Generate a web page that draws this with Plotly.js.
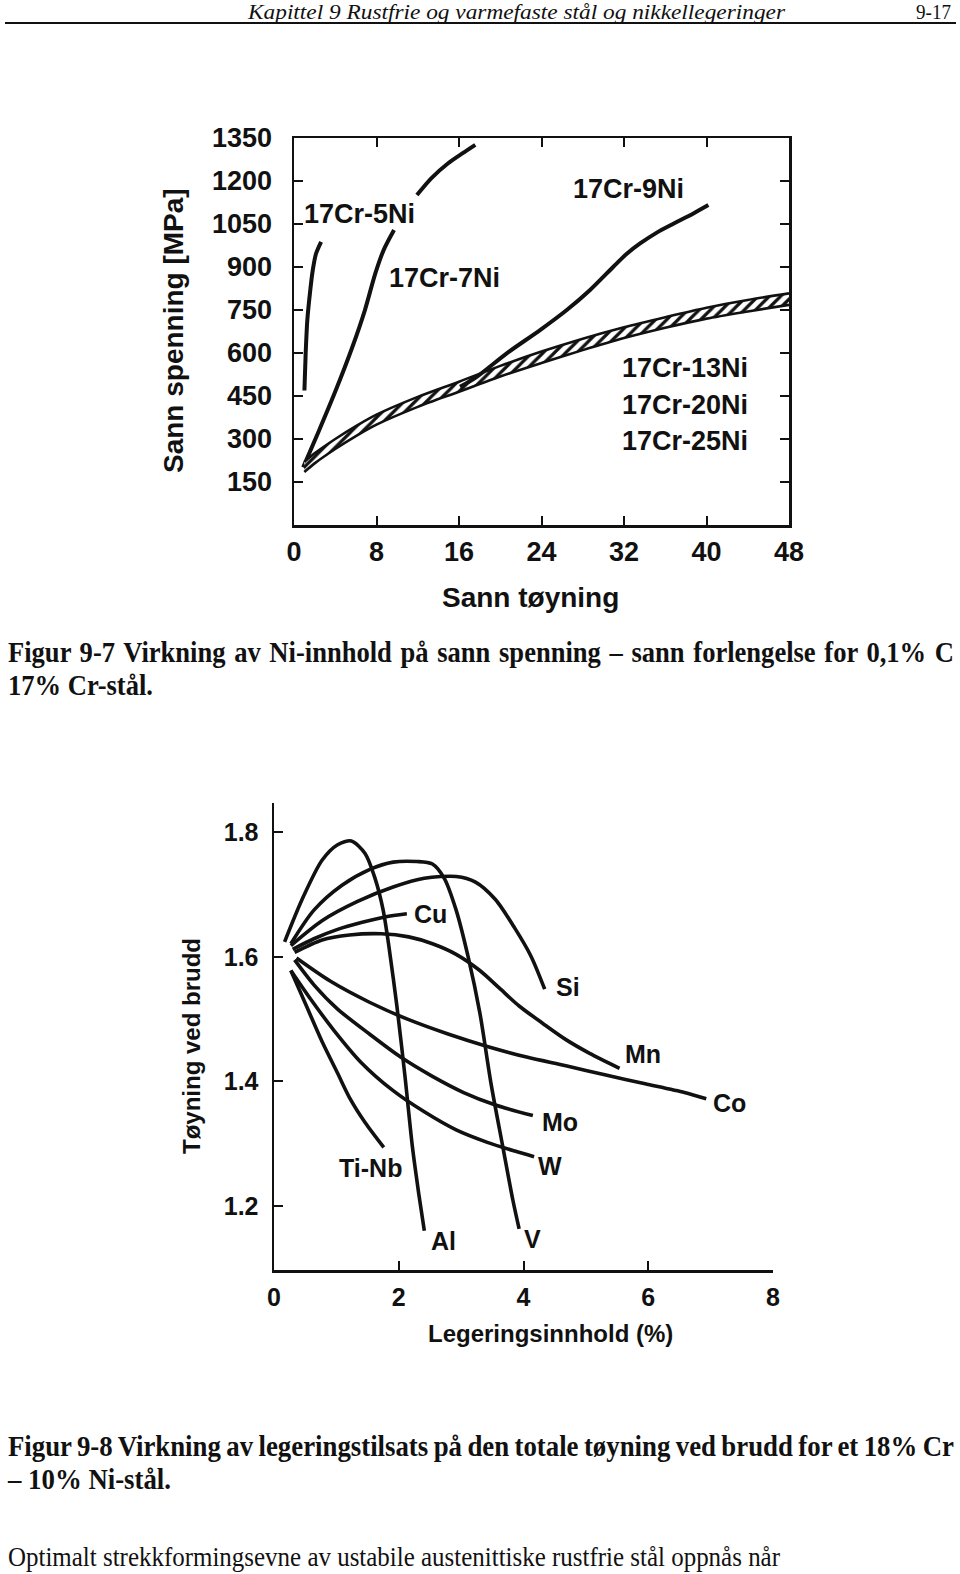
<!DOCTYPE html>
<html><head><meta charset="utf-8">
<script src="https://cdn.plot.ly/plotly-3.0.1.min.js"></script>
<style>
html,body{margin:0;padding:0;background:#fff;}
#page{position:relative;width:960px;height:1574px;overflow:hidden;background:#fff;}
#chart{position:absolute;left:0;top:0;width:960px;height:1574px;}
.ln{position:absolute;white-space:nowrap;transform-origin:0 0;color:#111;}
#rule{position:absolute;left:5px;top:22px;width:951px;height:2px;background:#111;}
</style></head>
<body><div id="page"><div id="chart"></div><div id="rule"></div></div>
<script>
// ---------- Figure 9-7 data ----------
const strainTicks = [0, 8, 16, 24, 32, 40, 48];
const stressTicks = [150, 300, 450, 600, 750, 900, 1050, 1200, 1350];

const ni5X = [1.01, 1.13, 1.29, 1.54, 1.82, 2.14, 2.63];
const ni5Y = [469, 597, 714, 807, 889, 947, 988];

const ni7X = [0.89, 2.42, 4.04, 5.66, 6.87, 7.88, 8.69, 9.70, null, 11.92, 13.33, 14.95, 16.36, 17.58];
const ni7Y = [201, 329, 469, 621, 749, 877, 959, 1029, null, 1151, 1210, 1262, 1297, 1326];

const ni9X = [16.1, 17.72, 20.63, 23.86, 26.45, 28.71, 30.97, 32.27, 33.56, 35.18, 36.79, 38.73, 40.18];
const ni9Y = [482, 517, 599, 680, 750, 820, 901, 946, 982, 1020, 1051, 1087, 1116];

const bandX = [1, 2, 4, 6, 8, 12, 16, 20, 24, 28, 32, 36, 40, 44, 48];
const bandUpper = [220, 250, 300, 345, 385, 447, 500, 555, 605, 650, 690, 725, 758, 785, 808];
const bandLower = [185, 215, 265, 310, 350, 412, 465, 518, 565, 610, 652, 688, 720, 745, 768];

const topLabels = ['17Cr-5Ni', '17Cr-7Ni', '17Cr-9Ni', '17Cr-13Ni', '17Cr-20Ni', '17Cr-25Ni'];
const topLabelX = [6.35, 14.55, 32.45, 37.92, 37.92, 37.92];
const topLabelY = [1085, 862, 1172, 549, 420, 293];

// ---------- Figure 9-8 data ----------
const alloyTicks = [0, 2, 4, 6, 8];
const elongTicks = [1.2, 1.4, 1.6, 1.8];

const alX = [0.17, 0.45, 0.77, 1.02, 1.24, 1.46, 1.62, 1.75, 1.84, 1.97, 2.10, 2.22, 2.32, 2.41];
const alY = [1.624, 1.692, 1.755, 1.780, 1.786, 1.766, 1.726, 1.675, 1.618, 1.521, 1.408, 1.294, 1.220, 1.160];

const vX = [0.27, 0.64, 1.09, 1.53, 1.91, 2.29, 2.54, 2.73, 2.92, 3.11, 3.30, 3.48, 3.67, 3.83, 3.93];
const vY = [1.621, 1.675, 1.715, 1.740, 1.752, 1.753, 1.749, 1.726, 1.675, 1.601, 1.510, 1.396, 1.294, 1.209, 1.163];

const siX = [0.27, 0.77, 1.34, 1.91, 2.41, 2.92, 3.23, 3.55, 3.86, 4.12, 4.34];
const siY = [1.618, 1.658, 1.689, 1.712, 1.726, 1.729, 1.720, 1.692, 1.646, 1.601, 1.548];

const cuX = [0.30, 0.64, 1.02, 1.40, 1.78, 2.13];
const cuY = [1.612, 1.629, 1.644, 1.655, 1.664, 1.669];

const mnX = [0.33, 0.77, 1.21, 1.72, 2.16, 2.54, 2.92, 3.30, 3.61, 3.93, 4.31, 4.68, 5.06, 5.54];
const mnY = [1.607, 1.627, 1.635, 1.637, 1.632, 1.621, 1.604, 1.578, 1.550, 1.521, 1.493, 1.467, 1.445, 1.421];

const coX = [0.36, 0.90, 1.53, 2.16, 2.79, 3.42, 4.05, 4.68, 5.32, 5.95, 6.58, 6.93];
const coY = [1.598, 1.561, 1.527, 1.499, 1.476, 1.456, 1.439, 1.425, 1.410, 1.396, 1.382, 1.372];

const moX = [0.33, 0.64, 1.02, 1.53, 2.03, 2.54, 3.04, 3.55, 4.15];
const moY = [1.595, 1.555, 1.516, 1.476, 1.439, 1.408, 1.382, 1.362, 1.345];

const wX = [0.27, 0.58, 0.96, 1.40, 1.91, 2.41, 2.92, 3.42, 3.86, 4.17];
const wY = [1.578, 1.533, 1.482, 1.430, 1.385, 1.351, 1.322, 1.302, 1.288, 1.279];

const tinbX = [0.27, 0.52, 0.77, 1.02, 1.21, 1.46, 1.76];
const tinbY = [1.578, 1.521, 1.464, 1.413, 1.374, 1.334, 1.294];

const botLabels = ['Cu', 'Si', 'Mn', 'Co', 'Mo', 'W', 'Ti-Nb', 'Al', 'V'];
const botLabelX = [2.51, 4.72, 5.92, 7.30, 4.58, 4.42, 1.55, 2.72, 4.15];
const botLabelY = [1.669, 1.551, 1.444, 1.366, 1.335, 1.264, 1.261, 1.143, 1.146];

// ---------- chart ----------
const INK = '#111';
const SANS = 'Liberation Sans, Arial, Helvetica, sans-serif';
const W = 960, H = 1574;
const px = x => x / W, py = y => 1 - y / H;

function curve(x, y, xa, ya, w) {
  return {x: x, y: y, xaxis: xa, yaxis: ya, mode: 'lines', hoverinfo: 'skip',
          line: {color: INK, width: w, shape: 'spline', smoothing: 0.8}, connectgaps: false};
}

const traces = [
  curve(ni5X, ni5Y, 'x', 'y', 4),
  curve(ni7X, ni7Y, 'x', 'y', 4),
  curve(bandX, bandLower, 'x', 'y', 2.6),
  Object.assign(curve(bandX, bandUpper, 'x', 'y', 2.6), {
    fill: 'tonexty', fillcolor: 'white',
    fillpattern: {shape: '/', size: 8, solidity: 0.4, fgcolor: INK, bgcolor: 'white'}
  }),
  curve(ni9X, ni9Y, 'x', 'y', 4),
  curve(alX, alY, 'x2', 'y2', 3.6),
  curve(vX, vY, 'x2', 'y2', 3.6),
  curve(siX, siY, 'x2', 'y2', 3.6),
  curve(cuX, cuY, 'x2', 'y2', 3.6),
  curve(mnX, mnY, 'x2', 'y2', 3.6),
  curve(coX, coY, 'x2', 'y2', 3.6),
  curve(moX, moY, 'x2', 'y2', 3.6),
  curve(wX, wY, 'x2', 'y2', 3.6),
  curve(tinbX, tinbY, 'x2', 'y2', 3.6)
];

const annotations = [];
topLabels.forEach((t, i) => annotations.push({
  text: t, x: topLabelX[i], y: topLabelY[i], xref: 'x', yref: 'y', showarrow: false,
  xanchor: 'center', yanchor: 'middle', font: {family: SANS, size: 27, color: INK, weight: 'bold'}
}));
botLabels.forEach((t, i) => annotations.push({
  text: t, x: botLabelX[i], y: botLabelY[i], xref: 'x2', yref: 'y2', showarrow: false,
  xanchor: 'center', yanchor: 'middle', font: {family: SANS, size: 25, color: INK, weight: 'bold'}
}));
function paperText(t, x, y, size, bold, angle) {
  annotations.push({text: t, x: px(x), y: py(y), xref: 'paper', yref: 'paper', showarrow: false,
    xanchor: 'center', yanchor: 'middle', textangle: angle || 0,
    font: {family: SANS, size: size, color: INK, weight: bold ? 'bold' : 'normal'}});
}
paperText('Sann spenning [MPa]', 173, 331, 28, true, -90);
paperText('Sann tøyning', 530, 597, 28, true);
paperText('Tøyning ved brudd', 191, 1046, 24, true, -90);
paperText('Legeringsinnhold (%)', 550, 1333, 24, true);

const axBase = {ticks: 'inside', ticklen: 9, tickwidth: 2, tickcolor: INK, showline: true,
  linecolor: INK, linewidth: 2.5, showgrid: false, zeroline: false, fixedrange: true};

const layout = {
  width: W, height: H, margin: {l: 0, r: 0, t: 0, b: 0},
  paper_bgcolor: 'rgba(0,0,0,0)', plot_bgcolor: 'rgba(0,0,0,0)', showlegend: false,
  font: {family: SANS, color: INK},
  xaxis: Object.assign({}, axBase, {domain: [px(294), px(789)], anchor: 'y', range: [0, 48],
    tickvals: strainTicks, mirror: 'ticks', tickfont: {size: 27, family: SANS, weight: 'bold'}, ticklabelstandoff: 1}),
  yaxis: Object.assign({}, axBase, {domain: [py(525), py(138)], anchor: 'x', range: [0, 1350],
    tickvals: stressTicks, mirror: 'ticks', tickfont: {size: 27, family: SANS, weight: 'bold'}, ticklabelstandoff: 14}),
  xaxis2: Object.assign({}, axBase, {domain: [px(274), px(773)], anchor: 'y2', range: [0, 8],
    tickvals: alloyTicks, tickfont: {size: 25, family: SANS, weight: 'bold'}, ticklabelstandoff: 3}),
  yaxis2: Object.assign({}, axBase, {domain: [py(1270), py(803)], anchor: 'x2', range: [1.097, 1.847],
    tickvals: elongTicks, ticktext: elongTicks.map(v => v.toFixed(1)),
    tickfont: {size: 25, family: SANS, weight: 'bold'}, ticklabelstandoff: 8}),
  annotations: annotations
};

Plotly.newPlot('chart', traces, layout, {staticPlot: true, displayModeBar: false});

// ---------- page text ----------
const page = document.getElementById('page');
const SERIF = "'Liberation Serif', 'Times New Roman', serif";
function addLine(text, o) {
  const d = document.createElement('div');
  d.className = 'ln';
  d.textContent = text;
  d.style.fontFamily = SERIF;
  d.style.fontSize = o.size + 'px';
  d.style.fontWeight = o.bold ? 'bold' : 'normal';
  d.style.fontStyle = o.italic ? 'italic' : 'normal';
  d.style.lineHeight = o.size + 'px';
  d.style.left = o.x0 + 'px';
  d.style.top = (o.base - 0.8375 * o.size) + 'px';
  page.appendChild(d);
  const w = d.getBoundingClientRect().width;
  let s = o.scale || (o.x1 - o.x0) / w;
  if (o.justify) {
    const spaces = (text.match(/ /g) || []).length;
    const extra = ((o.x1 - o.x0) / s - w) / spaces;
    d.style.wordSpacing = extra + 'px';
  }
  d.style.transform = 'scaleX(' + s + ')';
  return s;
}
addLine('Kapittel 9  Rustfrie og varmefaste stål og nikkellegeringer', {x0: 248, x1: 785, base: 19.5, size: 22, italic: true});
addLine('9-17', {x0: 916, x1: 951, base: 19.5, size: 22});
const s1 = addLine('17% Cr-stål.', {x0: 8, x1: 153, base: 695, size: 30, bold: true});
addLine('Figur 9-7 Virkning av Ni-innhold på sann spenning – sann forlengelse for 0,1% C', {x0: 8, x1: 954, base: 662, size: 30, bold: true, justify: true, scale: s1});
const s2 = addLine('– 10% Ni-stål.', {x0: 8, x1: 171, base: 1489, size: 30, bold: true});
addLine('Figur 9-8 Virkning av legeringstilsats på den totale tøyning ved brudd for et 18% Cr', {x0: 8, x1: 954, base: 1456, size: 30, bold: true, justify: true, scale: s2});
addLine('Optimalt strekkformingsevne av ustabile austenittiske rustfrie stål oppnås når', {x0: 8, x1: 780, base: 1567, size: 27});
</script>
</body></html>
